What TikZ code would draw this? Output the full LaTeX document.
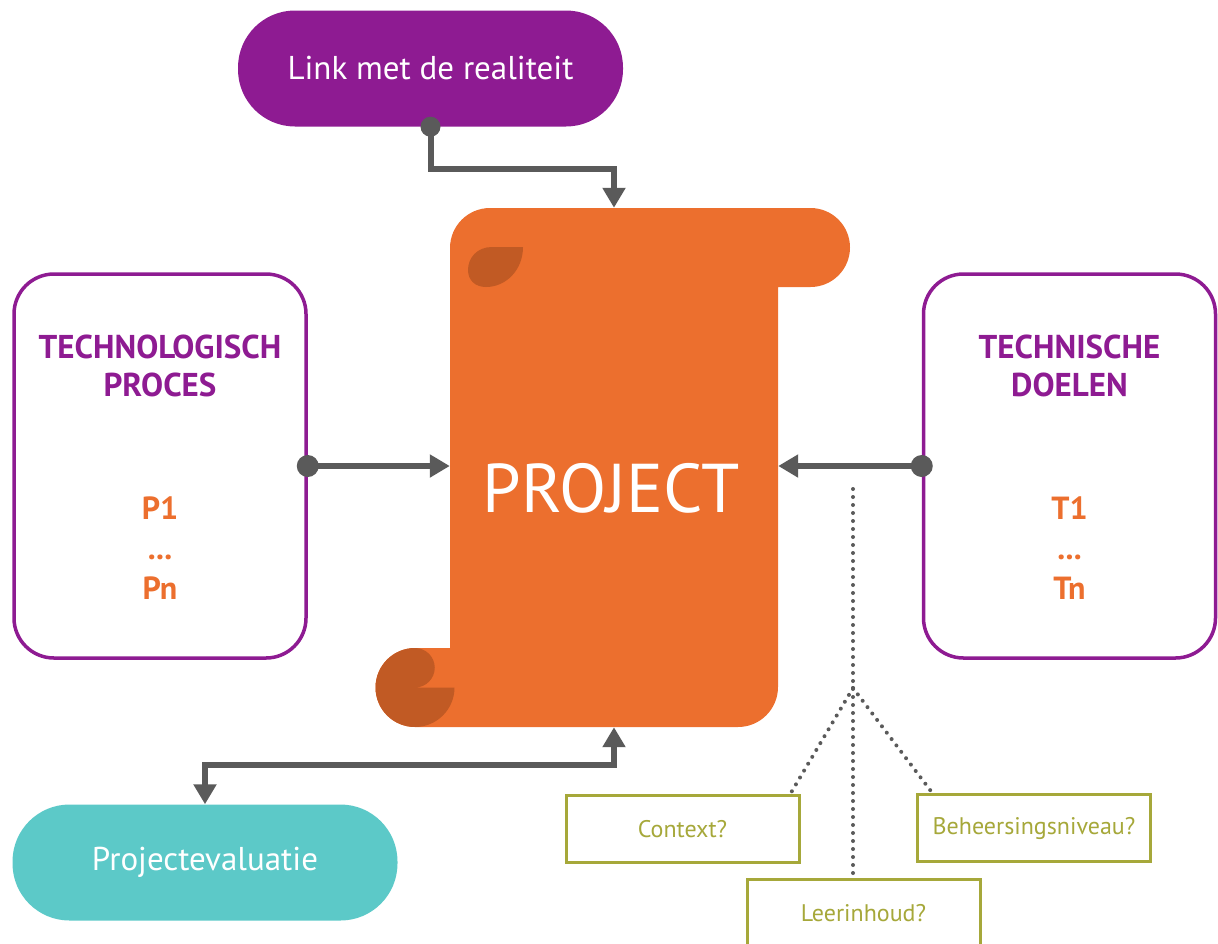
\documentclass[tikz,border=0pt]{standalone}
\usepackage{fontspec}
\setmainfont{PT Sans}
\usetikzlibrary{arrows.meta}
\definecolor{projpurple}{RGB}{142,27,146}
\definecolor{projorange}{RGB}{236,111,46}
\definecolor{curlorange}{RGB}{193,90,36}
\definecolor{evalteal}{RGB}{92,201,200}
\definecolor{conngray}{RGB}{90,90,90}
\definecolor{qolive}{RGB}{166,168,58}
\tikzset{
pill/.style={rounded corners=57pt,minimum width=385pt,minimum height=116pt,text=white,font=\fontsize{33}{38}\selectfont},
sidebox/.style={draw=projpurple,line width=3.5pt,rounded corners=40pt,minimum width=292pt,minimum height=384pt},
boxtitle/.style={text=projpurple,font=\bfseries\fontsize{33}{38}\selectfont,align=center},
boxitems/.style={text=projorange,font=\bfseries\fontsize{32}{40}\selectfont,align=center},
conn/.style={draw=conngray,line width=6pt},
qbox/.style={draw=qolive,line width=3pt,fill=white,minimum width=233pt,minimum height=67pt,text=qolive,font=\fontsize{24}{28}\selectfont},
qline/.style={conngray,line width=4pt,line cap=round,dash pattern=on 0pt off 8pt},
}
\begin{document}
\begin{tikzpicture}[x=1pt,y=-1pt,>={Triangle[length=20pt,width=22pt]}]
\useasboundingbox (0,0) rectangle (1218,943);
% scroll
\fill[projorange] (450,648) -- (450,248) arc[start angle=180,end angle=90,radius=40pt]
 -- (810.5,208) arc[start angle=90,end angle=-90,radius=39.5pt]
 -- (778,287) -- (778,687) arc[start angle=0,end angle=-90,radius=40pt]
 -- (415,727) arc[start angle=270,end angle=90,radius=39.5pt] -- cycle;
\fill[curlorange] (415,727) arc[start angle=270,end angle=90,radius=39.5pt]
 arc[start angle=90,end angle=-90,radius=19.75pt]
 -- (454.5,687.5) arc[start angle=0,end angle=-90,radius=39.5pt] -- cycle;
\fill[curlorange] (523,247) -- (492,247) .. controls (477,247) and (468,258) .. (468,270)
 .. controls (468,280) and (475,287) .. (486,287) .. controls (506,287) and (523,270) .. cycle;
\node[minimum width=328pt,minimum height=519pt] (scroll) at (614,467.5) {};
\node[text=white,font=\fontsize{69}{74}\selectfont] (project) at (611,488) {PROJECT};
% nodes
\node[pill,fill=projpurple] (link) at (430.5,68.5) {Link met de realiteit};
\node[pill,fill=evalteal] (eval) at (205,862.5) {Projectevaluatie};
\node[sidebox] (proc) at (160,466) {};
\node[sidebox] (doel) at (1069.5,466) {};
\node[boxtitle] (proctitle) at (160,366) {TECHNOLOGISCH\\PROCES};
\node[boxtitle] (doeltitle) at (1069.5,366) {TECHNISCHE\\DOELEN};
\node[boxitems] (procitems) at (160,548) {P1\\...\\Pn};
\node[boxitems] (doelitems) at (1069.5,548) {T1\\...\\Tn};
\foreach \n/\x/\y/\t in {context/682.5/829/Context?,beheers/1034/828/Beheersingsniveau?,leer/863.5/913/Leerinhoud?}{
\node[qbox] (\n) at (\x,\y) {\t};
}
% connectors
\draw[conn,->] (link.south) -- ++(0,42) -| (scroll.north);
\draw[conn,<->] (scroll.south) -- ++(0,38) -| (eval.north);
\draw[conn,->] (proc.east) -- (proc.east -| scroll.west);
\draw[conn,->] (doel.west) -- (doel.west -| scroll.east);
\fill[conngray] (link.south) circle (10pt);
\fill[conngray] (proc.east) circle (11pt);
\fill[conngray] (doel.west) circle (11pt);
\coordinate (qtop) at (853,489);
\coordinate (qjoin) at (853,688);
\draw[qline] (qtop) -- (qjoin |- leer.north);
\draw[qline] (qjoin) -- (context.18);
\draw[qline] (qjoin) -- (beheers.161);
\end{tikzpicture}
\end{document}
